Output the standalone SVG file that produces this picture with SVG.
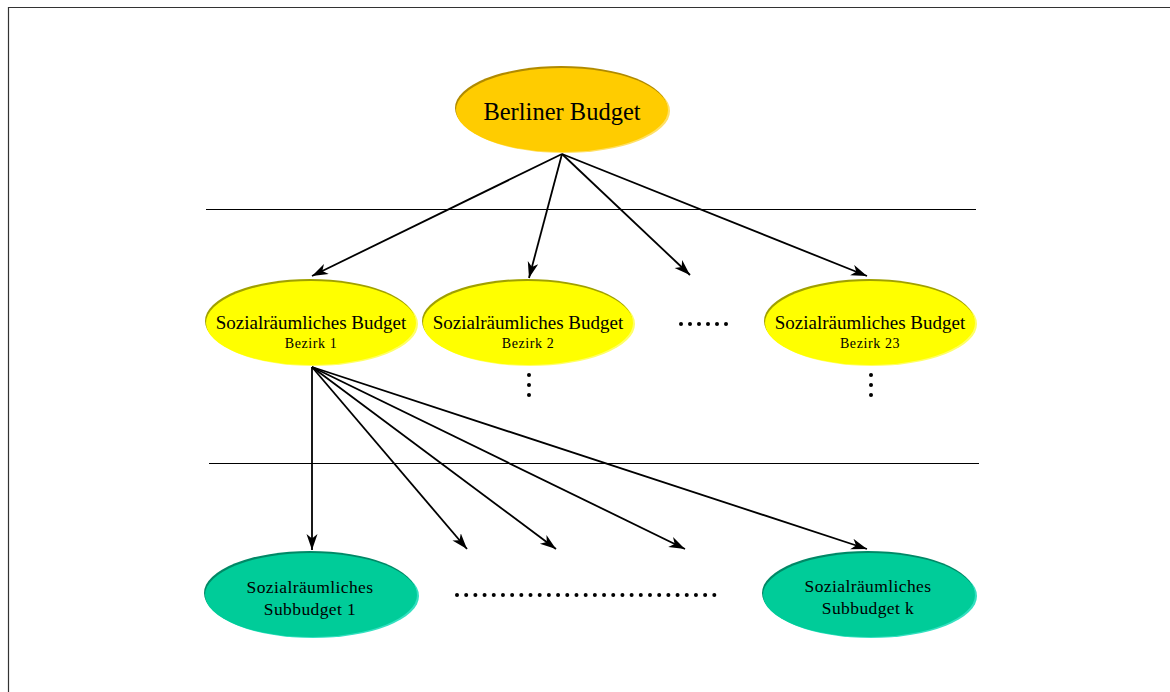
<svg xmlns="http://www.w3.org/2000/svg" width="1170" height="692" viewBox="0 0 1170 692">
<defs>
<style>
.t{font-family:"Liberation Serif","Times New Roman",serif;fill:#000;text-anchor:middle}
.big{font-size:24.5px}
.mid{font-size:19px}
.sm{font-size:14px;letter-spacing:0.6px}
.sub{font-size:17.5px;letter-spacing:0.4px}
.edge{stroke:#000;stroke-width:1.8;fill:none;marker-end:url(#ah)}
.rule{stroke:#000;stroke-width:1.2}
.dot{fill:#000}
</style>
<marker id="ah" markerUnits="userSpaceOnUse" markerWidth="18" markerHeight="12" refX="16" refY="5.5" orient="auto">
<path d="M0,0 L16,5.5 L0,11 L4.5,5.5 Z" fill="#000"/>
</marker>
</defs>
<rect x="0" y="0" width="1170" height="692" fill="#fff"/>
<path d="M8.5,692 V7.5 H1170" stroke="#333" stroke-width="1.2" fill="none"/>

<g id="rules">
<line class="rule" x1="206" y1="209.5" x2="976" y2="209.5"/>
<line class="rule" x1="209" y1="463.5" x2="979" y2="463.5"/>
</g>

<g id="connectors">
<line class="edge" x1="562" y1="154" x2="312" y2="276"/>
<line class="edge" x1="562" y1="154" x2="529" y2="278"/>
<line class="edge" x1="562" y1="154" x2="690" y2="275"/>
<line class="edge" x1="562" y1="154" x2="867" y2="276"/>
<line class="edge" x1="312" y1="367" x2="312" y2="550"/>
<line class="edge" x1="312" y1="367" x2="467" y2="549"/>
<line class="edge" x1="312" y1="367" x2="556" y2="549"/>
<line class="edge" x1="312" y1="367" x2="685" y2="549"/>
<line class="edge" x1="312" y1="367" x2="867" y2="549"/>
</g>

<g id="berliner">
<ellipse cx="564" cy="111" rx="106" ry="42" fill="#FFE066"/>
<ellipse cx="561" cy="108" rx="106" ry="42" fill="#B08A00"/>
<ellipse cx="562" cy="110" rx="106" ry="42" fill="#FFCC00"/>
<text class="t big" x="562" y="120">Berliner Budget</text>
</g>

<g id="bezirk1">
<ellipse cx="313" cy="324" rx="105" ry="42" fill="#FFFF66"/>
<ellipse cx="310" cy="321" rx="105" ry="42" fill="#A0A000"/>
<ellipse cx="311" cy="323" rx="105" ry="42" fill="#FFFF00"/>
<text class="t mid" x="311" y="329">Sozialräumliches Budget</text>
<text class="t sm" x="311" y="348">Bezirk 1</text>
</g>

<g id="bezirk2">
<ellipse cx="530" cy="324" rx="105" ry="42" fill="#FFFF66"/>
<ellipse cx="527" cy="321" rx="105" ry="42" fill="#A0A000"/>
<ellipse cx="528" cy="323" rx="105" ry="42" fill="#FFFF00"/>
<text class="t mid" x="528" y="329">Sozialräumliches Budget</text>
<text class="t sm" x="528" y="348">Bezirk 2</text>
</g>

<g id="bezirk23">
<ellipse cx="872" cy="324" rx="105" ry="42" fill="#FFFF66"/>
<ellipse cx="869" cy="321" rx="105" ry="42" fill="#A0A000"/>
<ellipse cx="870" cy="323" rx="105" ry="42" fill="#FFFF00"/>
<text class="t mid" x="870" y="329">Sozialräumliches Budget</text>
<text class="t sm" x="870" y="348">Bezirk 23</text>
</g>

<g id="sub1">
<ellipse cx="313" cy="596" rx="106" ry="42" fill="#33E0C0"/>
<ellipse cx="310" cy="593" rx="106" ry="42" fill="#008866"/>
<ellipse cx="311" cy="595" rx="106" ry="42" fill="#00CC99"/>
<text class="t sub" x="310" y="593">Sozialräumliches</text>
<text class="t sub" x="310" y="615">Subbudget 1</text>
</g>

<g id="subk">
<ellipse cx="871" cy="596" rx="106" ry="42" fill="#33E0C0"/>
<ellipse cx="868" cy="593" rx="106" ry="42" fill="#008866"/>
<ellipse cx="869" cy="595" rx="106" ry="42" fill="#00CC99"/>
<text class="t sub" x="868" y="592">Sozialräumliches</text>
<text class="t sub" x="868" y="614">Subbudget k</text>
</g>

<g id="dots">
<circle class="dot" cx="681" cy="324" r="2"/>
<circle class="dot" cx="690" cy="324" r="2"/>
<circle class="dot" cx="699" cy="324" r="2"/>
<circle class="dot" cx="708" cy="324" r="2"/>
<circle class="dot" cx="717" cy="324" r="2"/>
<circle class="dot" cx="726" cy="324" r="2"/>
<circle class="dot" cx="529" cy="375" r="2"/>
<circle class="dot" cx="529" cy="385" r="2"/>
<circle class="dot" cx="529" cy="395" r="2"/>
<circle class="dot" cx="871" cy="375" r="2"/>
<circle class="dot" cx="871" cy="385" r="2"/>
<circle class="dot" cx="871" cy="395" r="2"/>
<g transform="translate(457,595)">
<circle class="dot" cx="0" cy="0" r="2"/><circle class="dot" cx="9.19" cy="0" r="2"/><circle class="dot" cx="18.38" cy="0" r="2"/><circle class="dot" cx="27.57" cy="0" r="2"/><circle class="dot" cx="36.76" cy="0" r="2"/><circle class="dot" cx="45.95" cy="0" r="2"/><circle class="dot" cx="55.14" cy="0" r="2"/><circle class="dot" cx="64.33" cy="0" r="2"/><circle class="dot" cx="73.52" cy="0" r="2"/><circle class="dot" cx="82.71" cy="0" r="2"/><circle class="dot" cx="91.9" cy="0" r="2"/><circle class="dot" cx="101.09" cy="0" r="2"/><circle class="dot" cx="110.28" cy="0" r="2"/><circle class="dot" cx="119.47" cy="0" r="2"/><circle class="dot" cx="128.66" cy="0" r="2"/><circle class="dot" cx="137.85" cy="0" r="2"/><circle class="dot" cx="147.04" cy="0" r="2"/><circle class="dot" cx="156.23" cy="0" r="2"/><circle class="dot" cx="165.42" cy="0" r="2"/><circle class="dot" cx="174.61" cy="0" r="2"/><circle class="dot" cx="183.8" cy="0" r="2"/><circle class="dot" cx="192.99" cy="0" r="2"/><circle class="dot" cx="202.18" cy="0" r="2"/><circle class="dot" cx="211.37" cy="0" r="2"/><circle class="dot" cx="220.56" cy="0" r="2"/><circle class="dot" cx="229.75" cy="0" r="2"/><circle class="dot" cx="238.94" cy="0" r="2"/><circle class="dot" cx="248.13" cy="0" r="2"/><circle class="dot" cx="257.32" cy="0" r="2"/>
</g>
</g>
</svg>
